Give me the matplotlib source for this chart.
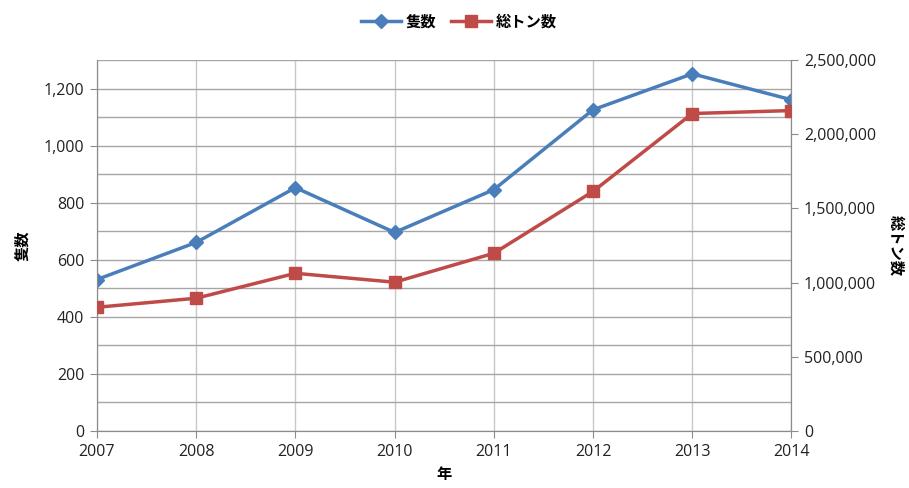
import matplotlib
matplotlib.use("Agg")
import matplotlib.pyplot as plt
from matplotlib.ticker import FuncFormatter, MultipleLocator

plt.rcParams['font.family'] = ['Open Sans', 'Noto Sans CJK JP', 'DejaVu Sans']

years = [2007, 2008, 2009, 2010, 2011, 2012, 2013, 2014]
ships = [531, 661, 853, 696, 846, 1126, 1252, 1161]
tonnage = [834000, 895000, 1063000, 1003000, 1198000, 1615000, 2140000, 2160000]

blue = '#4A7EBB'
red = '#BE4B48'
grid_col = '#A6A6A6'

fig = plt.figure(figsize=(9.09, 4.88), dpi=100)
ax = fig.add_axes([0.1067, 0.1168, 0.764, 0.760])
ax2 = ax.twinx()

ax.set_xlim(2007, 2014)
ax.set_ylim(0, 1300)
ax2.set_ylim(0, 2500000)

# horizontal grid every 100 ships, vertical grid every year
ax.yaxis.set_major_locator(MultipleLocator(200))
ax.yaxis.set_minor_locator(MultipleLocator(100))
ax.set_xticks(years)
ax.grid(True, which='both', axis='y', color=grid_col, lw=1.0)
ax.grid(True, which='major', axis='x', color='#C8C8C8', lw=1.0)
ax.set_axisbelow(True)

ax2.yaxis.set_major_locator(MultipleLocator(500000))

fmt = FuncFormatter(lambda v, p: f'{int(v):,}')
ax.yaxis.set_major_formatter(fmt)
ax2.yaxis.set_major_formatter(fmt)

for a in (ax, ax2):
    for s in a.spines.values():
        s.set_color('#8C8C8C')
    a.spines['top'].set_visible(False)
    a.tick_params(which='major', length=5, color='#8C8C8C', labelsize=11.5,
                  labelcolor='#222222', pad=4)
    a.tick_params(which='minor', length=0)

l1, = ax.plot(years, ships, color=blue, lw=2.5, marker='D', ms=7,
              label='隻数', zorder=4)
l2, = ax2.plot(years, tonnage, color=red, lw=2.5, marker='s', ms=9,
               label='総トン数', zorder=4)

ax.set_ylabel('隻数', family=['Noto Sans CJK JP'], fontsize=11,
              fontweight='bold', labelpad=10)
ax2.set_ylabel('総トン数', family=['Noto Sans CJK JP'], fontsize=11,
               fontweight='bold', rotation=270, labelpad=20)
ax.set_xlabel('年', family=['Noto Sans CJK JP'], fontsize=11,
              fontweight='bold', labelpad=5)

fig.legend(handles=[l1, l2], loc='upper center', bbox_to_anchor=(0.505, 1.0),
           ncol=2, frameon=False, handlelength=2.6, columnspacing=1.0,
           handletextpad=0.3, prop={'family': 'Noto Sans CJK JP', 'size': 11,
                                    'weight': 'bold'})

fig.savefig('out.png', dpi=100)
